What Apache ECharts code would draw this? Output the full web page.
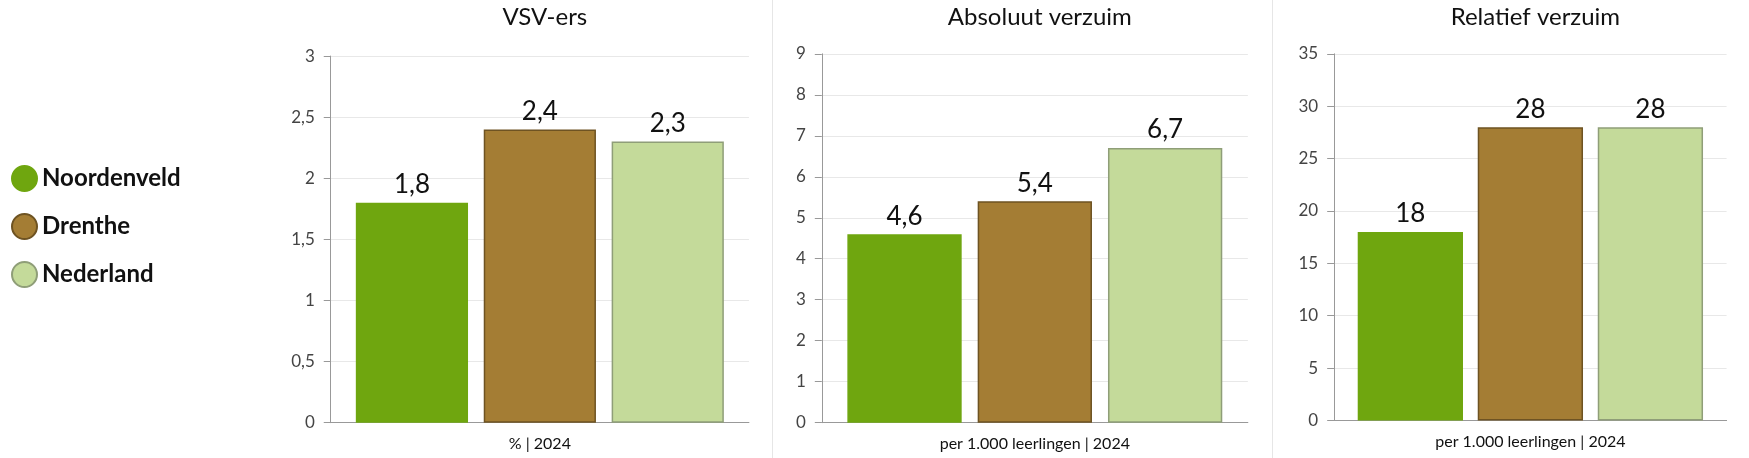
<!DOCTYPE html>
<html><head><meta charset="utf-8">
<script src="https://cdn.jsdelivr.net/npm/echarts@6/dist/echarts.min.js"></script>
<style>html,body{margin:0;padding:0;background:#fff}#container{width:1749px;height:458px}</style>
</head><body><div id="container"></div>
<script>
const seriesNames = ['Noordenveld', 'Drenthe', 'Nederland'];
const titles = ['VSV-ers', 'Absoluut verzuim', 'Relatief verzuim'];
const xLabels = ['% | 2024', 'per 1.000 leerlingen | 2024', 'per 1.000 leerlingen | 2024'];
const noordenveld = [1.8, 4.6, 18];
const drenthe = [2.4, 5.4, 28];
const nederland = [2.3, 6.7, 28];
const yMax = [3, 9, 35];
const yStep = [0.5, 1, 5];

// reference picture was shown at ~0.892 scale; positions below were read from it
const k = 1749 / 1560;
const font = 'Lato';
const colors = ['#6fa60f', '#a47d34', '#c4da9a'];
const borders = ['#6fa60f', '#6e5322', '#8f9e78'];
const grids = [
  { left: 295, width: 373, top: 50, height: 327 },
  { left: 733, width: 380, top: 48, height: 329 },
  { left: 1190, width: 350, top: 48, height: 327 }
].map(g => ({ left: g.left * k, width: g.width * k, top: g.top * k, height: g.height * k }));
const fmt = v => String(v).replace('.', ',');

const option = {
  animation: false,
  textStyle: { fontFamily: font },
  title: titles.map((t, i) => ({
    text: t, left: grids[i].left + grids[i].width / 2, top: 0, textAlign: 'center',
    textStyle: { fontFamily: font, fontWeight: 'normal', fontSize: 24, color: '#111' }
  })),
  legend: {
    orient: 'vertical', left: 6, top: 160, itemGap: 21, icon: 'circle',
    itemWidth: 25, itemHeight: 25, data: seriesNames,
    textStyle: { fontFamily: font, fontSize: 24, fontWeight: 'bold', color: '#111' }
  },
  graphic: [
    { type: 'line', shape: { x1: 689 * k, y1: 0, x2: 689 * k, y2: 458 }, style: { stroke: '#e6e6e6' } },
    { type: 'line', shape: { x1: 1135 * k, y1: 0, x2: 1135 * k, y2: 458 }, style: { stroke: '#e6e6e6' } }
  ],
  grid: grids,
  xAxis: grids.map((g, i) => ({
    type: 'category', gridIndex: i, data: [xLabels[i]],
    axisLine: { lineStyle: { color: '#999' } }, axisTick: { show: false },
    axisLabel: { color: '#111', fontSize: 16, margin: 13 }
  })),
  yAxis: grids.map((g, i) => ({
    type: 'value', gridIndex: i, min: 0, max: yMax[i], interval: yStep[i],
    axisLine: { show: true, lineStyle: { color: '#999' } },
    axisTick: { show: true, length: 7, lineStyle: { color: '#999' } },
    splitLine: { lineStyle: { color: '#e8e8e8' } },
    axisLabel: { color: '#444', fontSize: 17, margin: 16, formatter: fmt }
  })),
  series: []
};
const vals = [noordenveld, drenthe, nederland];
for (let p = 0; p < 3; p++) {
  for (let s = 0; s < 3; s++) {
    option.series.push({
      name: seriesNames[s], type: 'bar', xAxisIndex: p, yAxisIndex: p,
      data: [vals[s][p]], barGap: '14%', barCategoryGap: '12%',
      itemStyle: { color: colors[s], borderColor: borders[s], borderWidth: 1.5 },
      label: { show: true, position: 'top', fontSize: 26, color: '#111', formatter: d => fmt(d.value) }
    });
  }
}
echarts.init(document.getElementById('container')).setOption(option);
</script></body></html>
